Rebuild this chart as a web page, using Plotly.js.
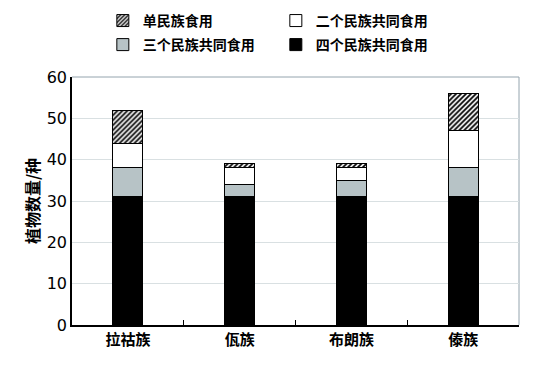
<!DOCTYPE html>
<html>
<head>
<meta charset="utf-8">
<script src="https://cdn.plot.ly/plotly-3.0.1.min.js"></script>
<style>html,body{margin:0;padding:0;background:#fff;}#chart{width:547px;height:365px;}</style>
</head>
<body>
<div id="chart"></div>
<script>
const categories = ['拉祜族', '佤族', '布朗族', '傣族'];
const fourShared = [31, 31, 31, 31];
const threeShared = [7, 3, 4, 7];
const twoShared = [6, 4, 3, 9];
const single = [8, 1, 1, 9];
const seriesNames = ['四个民族共同食用', '三个民族共同食用', '二个民族共同食用', '单民族食用'];
const yTicks = [0, 10, 20, 30, 40, 50, 60];
const yTitle = '植物数量/种';

const font = '"Noto Sans CJK SC", "Noto Sans", sans-serif';
const line = {color: '#000', width: 1};
const traces = [
  {name: seriesNames[0], y: fourShared, legend: 'legend4', marker: {color: '#000', line: line}},
  {name: seriesNames[1], y: threeShared, legend: 'legend3', marker: {color: '#b7c3c6', line: line}},
  {name: seriesNames[2], y: twoShared, legend: 'legend2', marker: {color: '#fff', line: line}},
  {name: seriesNames[3], y: single, legend: 'legend', marker: {color: '#fff', line: line,
    pattern: {shape: '/', fgcolor: '#000', bgcolor: '#fff', size: 3.5, solidity: 0.5}}}
].map(t => Object.assign({type: 'bar', x: categories, width: 0.27}, t));

const legFont = {family: font, size: 14, color: '#000', weight: 'bold'};
function leg(x, y) {
  return {x: x, xanchor: 'left', y: y, yanchor: 'middle', font: legFont,
          bgcolor: 'rgba(0,0,0,0)', itemwidth: 30};
}

const layout = {
  width: 547, height: 365,
  margin: {l: 72, r: 28, t: 77, b: 40, autoexpand: false},
  paper_bgcolor: '#fff', plot_bgcolor: '#fff',
  barmode: 'stack',
  showlegend: true,
  legend: leg(0.069, 1.226),
  legend2: leg(0.456, 1.226),
  legend3: leg(0.069, 1.129),
  legend4: leg(0.456, 1.129),
  xaxis: {
    type: 'category', tickson: 'boundaries', ticks: 'inside', ticklen: 5, tickcolor: '#000',
    showline: true, linecolor: '#000', linewidth: 1.5, showgrid: false,
    tickfont: {family: font, size: 15, color: '#000', weight: 'bold'}
  },
  yaxis: {
    range: [0, 60], tickvals: yTicks, ticks: '', showline: true, linecolor: '#000', linewidth: 1.5,
    showgrid: true, gridcolor: '#d9e0e2', gridwidth: 1, zeroline: false,
    tickfont: {family: '"DejaVu Sans", sans-serif', size: 16, color: '#000'},
    title: {text: yTitle, standoff: 3, font: {family: font, size: 16, color: '#000', weight: 'bold'}}
  },
  shapes: [
    {type: 'line', xref: 'paper', yref: 'paper', x0: 0, x1: 1, y0: 1, y1: 1, line: {color: '#94a4ae', width: 1}, layer: 'below'},
    {type: 'line', xref: 'paper', yref: 'paper', x0: 1, x1: 1, y0: 0, y1: 1, line: {color: '#94a4ae', width: 1}, layer: 'below'}
  ]
};

Plotly.newPlot('chart', traces, layout, {displayModeBar: false});
</script>
</body>
</html>
